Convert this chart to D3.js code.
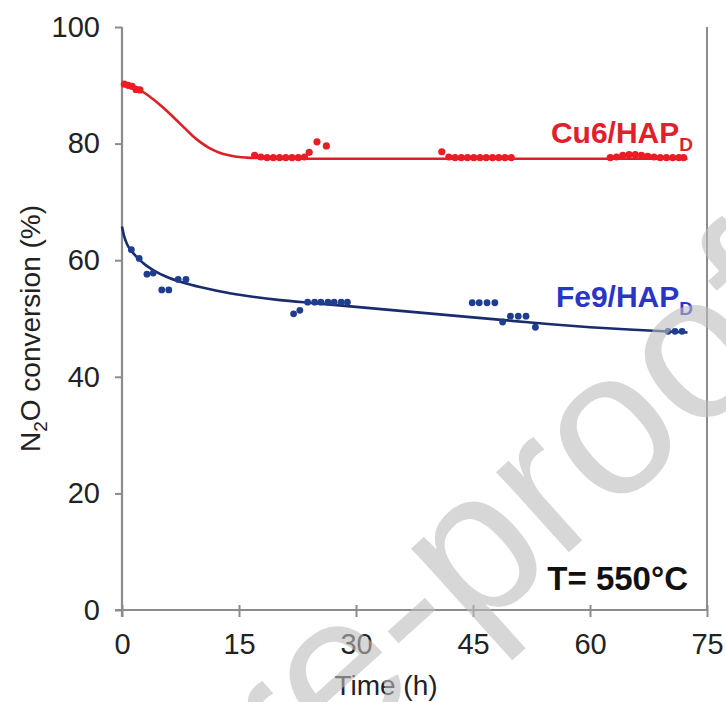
<!DOCTYPE html>
<html>
<head>
<meta charset="utf-8">
<script src="https://cdn.jsdelivr.net/npm/d3@7"></script>
<style>
  html, body { margin: 0; padding: 0; background: #fff; }
  svg { display: block; font-family: "Liberation Sans", Arial, sans-serif; }
</style>
</head>
<body>
<svg id="chart" width="726" height="702"></svg>
<script>
// Measured conversion, Cu6/HAP_D
const cuTime = [0.3, 0.8, 1.3, 1.8, 2.3,
  17.0, 17.8, 18.6, 19.4, 20.2, 21.0, 21.8, 22.6, 23.4,
  24.0, 25.0, 26.2,
  41.0, 41.9, 42.7, 43.5, 44.3, 45.1, 45.9, 46.7, 47.5, 48.3, 49.1, 49.9,
  62.6, 63.4, 64.2, 65.0, 65.8, 66.6, 67.4, 68.2, 69.0, 69.8, 70.6, 71.4, 72.0];
const cuConv = [90.2, 90.0, 89.8, 89.3, 89.2,
  78.0, 77.7, 77.6, 77.6, 77.6, 77.6, 77.6, 77.6, 77.7,
  78.5, 80.3, 79.6,
  78.6, 77.7, 77.6, 77.6, 77.6, 77.6, 77.6, 77.6, 77.6, 77.6, 77.6, 77.6,
  77.6, 77.7, 78.0, 78.1, 78.1, 78.0, 77.8, 77.7, 77.6, 77.6, 77.6, 77.6, 77.6];

// Measured conversion, Fe9/HAP_D
const feTime = [1.2, 2.2, 3.2, 4.0, 5.1, 6.0, 7.2, 8.2,
  22.0, 22.8, 23.8, 24.7, 25.5, 26.4, 27.2, 28.1, 28.9,
  44.9, 45.8, 46.8, 47.8, 48.8, 49.8, 50.8, 51.8, 53.0,
  70.0, 70.9, 71.8];
const feConv = [61.8, 60.3, 57.6, 57.8, 54.9, 54.9, 56.7, 56.7,
  50.8, 51.4, 52.8, 52.8, 52.8, 52.8, 52.8, 52.8, 52.8,
  52.7, 52.7, 52.7, 52.7, 49.4, 50.4, 50.4, 50.4, 48.5,
  47.8, 47.8, 47.8];

// Fitted trend lines
const cuFitTime = [0, 1, 2, 3, 4, 5, 6, 7, 8, 9, 10, 11, 12, 13, 14, 15, 16, 18, 20, 25, 40, 60, 72.5];
const cuFitConv = [90.1, 89.9, 89.4, 88.6, 87.6, 86.5, 85.3, 84.0, 82.7, 81.4, 80.3, 79.4, 78.7, 78.2, 77.9, 77.7, 77.6, 77.5, 77.4, 77.4, 77.4, 77.4, 77.4];
const feFitTime = [0, 0.3, 0.7, 1.2, 2, 3, 4, 6, 8, 10, 14, 17, 20, 25, 30, 35, 40, 45, 50, 55, 60, 65, 72.5];
const feFitConv = [65.8, 64.0, 62.6, 61.6, 60.4, 59.2, 58.3, 57.0, 56.1, 55.4, 54.3, 53.7, 53.2, 52.6, 52.0, 51.4, 50.8, 50.2, 49.6, 49.0, 48.5, 48.1, 47.6];

// Axis ticks
const xTicks = [0, 15, 30, 45, 60, 75];
const yTicks = [0, 20, 40, 60, 80, 100];

const svg = d3.select("#chart");
const m = { left: 122, top: 27, right: 19, bottom: 92 };
const W = 726 - m.left - m.right;
const H = 702 - m.top - m.bottom;

const x = d3.scaleLinear().domain([0, 75]).range([m.left, m.left + W]);
const y = d3.scaleLinear().domain([0, 100]).range([m.top + H, m.top]);

const axisGrey = "#8c8c8c";

// Right frame line
svg.append("line")
  .attr("x1", x(75)).attr("x2", x(75))
  .attr("y1", y(100)).attr("y2", y(0))
  .attr("stroke", "#666").attr("stroke-width", 1.5);

// Y axis
const yAxis = svg.append("g")
  .attr("transform", `translate(${m.left},0)`)
  .call(d3.axisLeft(y).tickValues(yTicks).tickSize(7).tickPadding(15));
yAxis.select(".domain").attr("stroke", axisGrey).attr("stroke-width", 2.2)
  .attr("d", `M0,${y(100)}V${y(0) + 7}`);
yAxis.selectAll(".tick line").attr("stroke", axisGrey).attr("stroke-width", 2);
yAxis.selectAll(".tick text").attr("fill", "#222").attr("font-size", 29);

// X axis
const xAxis = svg.append("g")
  .attr("transform", `translate(0,${y(0)})`)
  .call(d3.axisBottom(x).tickValues(xTicks).tickSize(7).tickPadding(16));
xAxis.select(".domain").attr("stroke", axisGrey).attr("stroke-width", 2.2)
  .attr("d", `M${x(0) - 7},0H${x(75)}`);
xAxis.selectAll(".tick line").attr("stroke", axisGrey).attr("stroke-width", 2)
  .attr("y1", -5);
xAxis.selectAll(".tick text").attr("fill", "#222").attr("font-size", 29);

// Axis titles
svg.append("text")
  .attr("x", 386).attr("y", 695)
  .attr("text-anchor", "middle").attr("font-size", 28).attr("fill", "#222")
  .text("Time (h)");

const yt = svg.append("text")
  .attr("transform", `translate(40,${y(50) + 10}) rotate(-90)`)
  .attr("text-anchor", "middle").attr("font-size", 28).attr("fill", "#222");
yt.append("tspan").text("N");
yt.append("tspan").attr("font-size", 19).attr("dy", 7).text("2");
yt.append("tspan").attr("dy", -7).text("O conversion (%)");

// Trend lines
const line = d3.line().curve(d3.curveMonotoneX).x(d => x(d[0])).y(d => y(d[1]));
svg.append("path")
  .datum(d3.zip(cuFitTime, cuFitConv))
  .attr("d", line).attr("fill", "none")
  .attr("stroke", "#df1f26").attr("stroke-width", 2.6);
svg.append("path")
  .datum(d3.zip(feFitTime, feFitConv))
  .attr("d", line).attr("fill", "none")
  .attr("stroke", "#1a2c6e").attr("stroke-width", 2.6);

// Data points
svg.append("g").selectAll("circle")
  .data(d3.zip(cuTime, cuConv)).join("circle")
  .attr("cx", d => x(d[0])).attr("cy", d => y(d[1])).attr("r", 3.6)
  .attr("fill", "#ec1c24");
svg.append("g").selectAll("circle")
  .data(d3.zip(feTime, feConv)).join("circle")
  .attr("cx", d => x(d[0])).attr("cy", d => y(d[1])).attr("r", 3.4)
  .attr("fill", "#1e3d8f");

// Series labels
function seriesLabel(txt, sub, xr, yb, color) {
  const t = svg.append("text")
    .attr("x", xr).attr("y", yb).attr("text-anchor", "end")
    .attr("font-size", 30).attr("font-weight", "bold").attr("fill", color);
  t.append("tspan").text(txt);
  t.append("tspan").attr("font-size", 19).attr("dy", 8).text(sub);
}
seriesLabel("Cu6/HAP", "D", 693, 143, "#e0202a");
seriesLabel("Fe9/HAP", "D", 693, 307, "#2a35c8");

// Watermark
const wm = svg.append("g")
  .attr("transform", "translate(338,760) rotate(-42)")
  .attr("font-size", 205).attr("fill", "#bdbdbd").attr("fill-opacity", 0.6);
wm.append("text").attr("text-anchor", "end").text("Journal Pr");
wm.append("text").attr("text-anchor", "start").text("e-proof");

// Temperature note
svg.append("text")
  .attr("x", 688).attr("y", 590).attr("text-anchor", "end")
  .attr("font-size", 33).attr("font-weight", "bold").attr("fill", "#111")
  .text("T= 550°C");
</script>
</body>
</html>
